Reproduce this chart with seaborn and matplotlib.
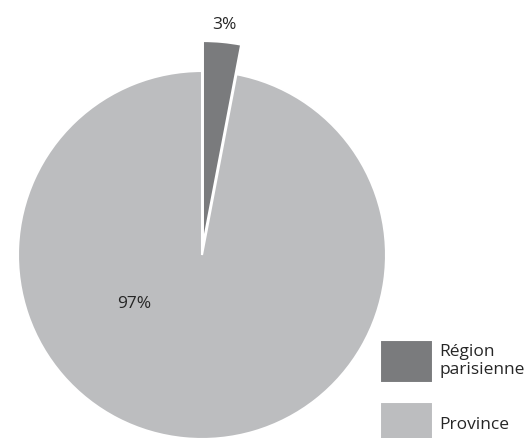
import matplotlib
matplotlib.use("Agg")
import matplotlib.pyplot as plt
import seaborn as sns

# data
regions = ["Région\nparisienne", "Province"]
shares = [3, 97]
share_labels = ["3%", "97%"]
colors = ["#7a7b7d", "#bcbdbf"]

sns.set_theme(style="white")
plt.rcParams["font.family"] = ["Open Sans", "DejaVu Sans"]

fig = plt.figure(figsize=(5.25, 4.39), dpi=100)
ax = fig.add_axes([0, 0, 1, 1])

center = (202, 183)
wedge_style = dict(edgecolor="white", linewidth=1.5)

# main pie (province slice)
base, _ = ax.pie(shares, colors=colors, radius=184, center=center,
                 startangle=90, counterclock=False, wedgeprops=wedge_style)
base[0].set_visible(False)

# highlighted slice, larger and pulled out
top, _ = ax.pie(shares, colors=colors, radius=204, center=center,
                explode=[10, 0], startangle=90, counterclock=False,
                wedgeprops=wedge_style)
top[1].set_visible(False)

ax.text(224, 414, share_labels[0], ha="center", va="center", fontsize=12.5)
ax.text(134, 135, share_labels[1], ha="center", va="center", fontsize=12.5)

ax.legend([top[0], base[1]], regions, loc="upper left",
          bbox_to_anchor=(0.723, 0.2235), frameon=False, fontsize=12.5,
          handlelength=3.05, handleheight=3.4, labelspacing=1.1,
          handletextpad=0.4, borderaxespad=0, borderpad=0)

ax.set_xlim(0, 525)
ax.set_ylim(0, 439)
ax.set_aspect("equal")
ax.axis("off")

fig.savefig("out.png", dpi=100)
